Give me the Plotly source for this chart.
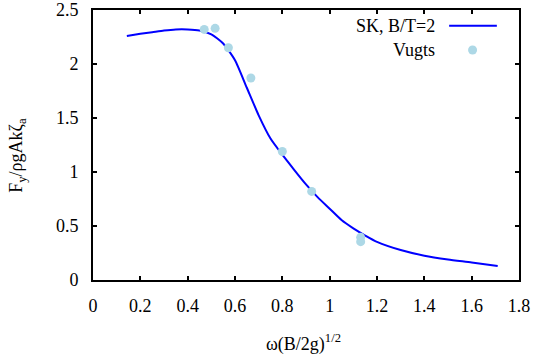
import plotly.graph_objects as go

# SK, B/T=2 curve
sk_x = [0.143, 0.2, 0.25, 0.3, 0.35, 0.4, 0.45, 0.5, 0.55, 0.6, 0.65, 0.7, 0.75,
        0.8, 0.85, 0.9, 0.95, 1.0, 1.05, 1.1, 1.15, 1.2, 1.3, 1.4, 1.5, 1.6, 1.71]
sk_y = [2.26, 2.28, 2.295, 2.31, 2.32, 2.32, 2.31, 2.275, 2.19, 2.035, 1.78, 1.525, 1.31,
        1.16, 1.02, 0.885, 0.765, 0.66, 0.555, 0.478, 0.412, 0.353, 0.277, 0.225, 0.19, 0.163, 0.13]

# Vugts experimental points
vu_x = [0.47, 0.516, 0.572, 0.667, 0.80, 0.924, 1.131, 1.131]
vu_y = [2.32, 2.33, 2.15, 1.87, 1.19, 0.82, 0.395, 0.355]

FONT = "Liberation Serif"

fig = go.Figure()
fig.add_trace(go.Scatter(x=sk_x, y=sk_y, mode="lines", name="SK, B/T=2",
                         line=dict(color="#0000ff", width=2, shape="spline", smoothing=0.6),
                         showlegend=False))
fig.add_trace(go.Scatter(x=vu_x, y=vu_y, mode="markers", name="Vugts",
                         marker=dict(color="#add8e6", size=9),
                         showlegend=False))

axis_common = dict(showline=True, linecolor="black", linewidth=2, mirror="allticks",
                   ticks="inside", ticklen=4, tickwidth=1.5, tickcolor="black",
                   showgrid=False, zeroline=False, automargin=False)

fig.update_xaxes(range=[0, 1.8], dtick=0.2, tick0=0, ticklabelstandoff=8,
                 tickfont=dict(family="Times New Roman", size=18, color="black"), **axis_common)
fig.update_yaxes(range=[0, 2.5], dtick=0.5, tick0=0, ticklabelstandoff=9,
                 tickfont=dict(family="Times New Roman", size=18, color="black"), **axis_common)

annotations = [
    dict(text="SK, B/T=2", x=0.8075, y=0.942, xref="paper", yref="paper",
         xanchor="right", yanchor="middle", showarrow=False,
         font=dict(family=FONT, size=18, color="black")),
    dict(text="Vugts", x=0.8075, y=0.852, xref="paper", yref="paper",
         xanchor="right", yanchor="middle", showarrow=False,
         font=dict(family=FONT, size=18, color="black")),
    dict(text="ω(B/2g)<sup>1/2</sup>", x=0.493, y=-0.183, xref="paper", yref="paper",
         xanchor="center", yanchor="top", showarrow=False,
         font=dict(family=FONT, size=18, color="black")),
    dict(text="F<sub>y</sub>/ρgAkζ<sub>a</sub>", x=-0.176, y=0.46, xref="paper", yref="paper",
         xanchor="center", yanchor="middle", showarrow=False, textangle=-90,
         font=dict(family=FONT, size=18, color="black")),
]

shapes = [
    dict(type="line", xref="paper", yref="paper", x0=0.836, x1=0.948, y0=0.942, y1=0.942,
         line=dict(color="#0000ff", width=2)),
    dict(type="circle", xref="paper", yref="paper", x0=0.891 - 0.0106, x1=0.891 + 0.0106,
         y0=0.852 - 0.0167, y1=0.852 + 0.0167, fillcolor="#add8e6", line=dict(width=0)),
]

fig.update_layout(template="none",
                  width=533, height=358, margin=dict(l=93, r=14, t=10, b=78, autoexpand=False),
                  plot_bgcolor="white", paper_bgcolor="white",
                  annotations=annotations, shapes=shapes,
                  font=dict(family=FONT, size=18, color="black"))

fig.write_html("out.html", config={"displayModeBar": False},
               post_script="document.body.style.margin='0';")
